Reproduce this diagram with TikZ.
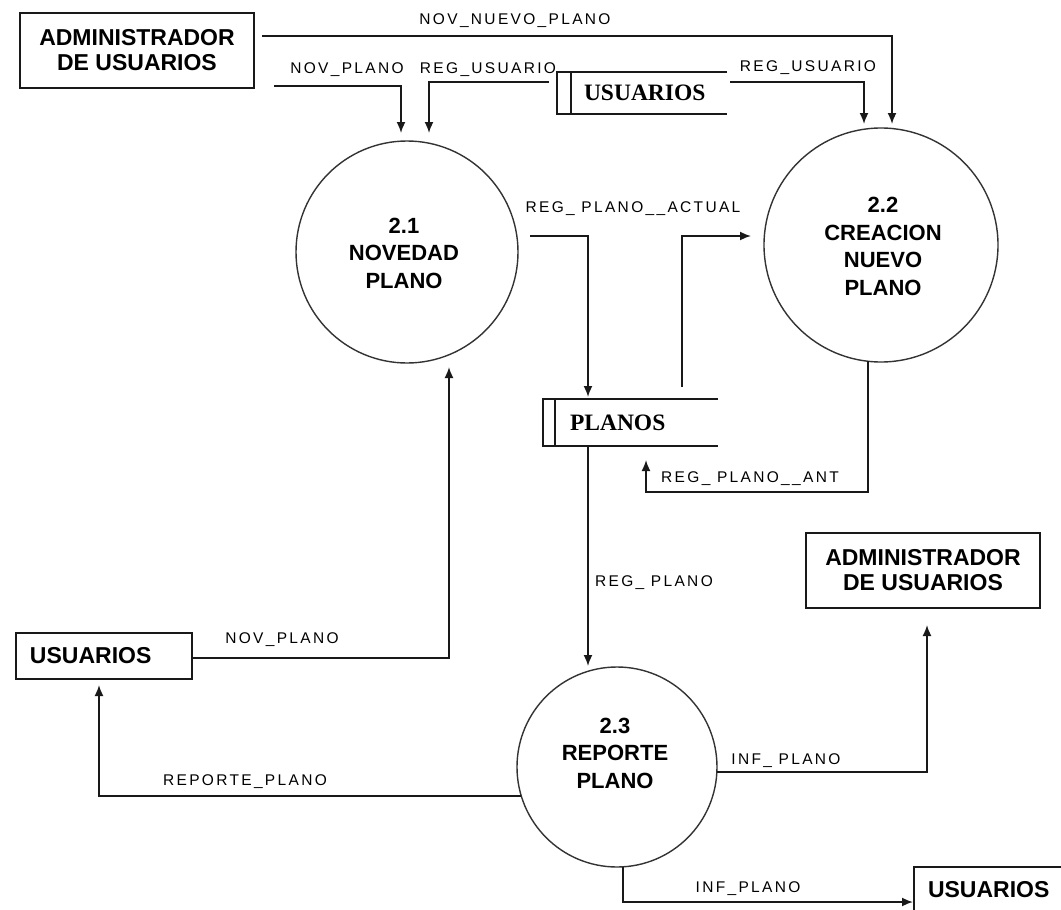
\documentclass[tikz,border=0pt]{standalone}
\usepackage{fontspec}
\usetikzlibrary{arrows.meta,calc}
\newfontfamily\entfont{Liberation Sans}
\newfontfamily\storefont{Liberation Serif}
\newfontfamily\flowfont[LetterSpace=15]{Liberation Sans}

\begin{document}
\begin{tikzpicture}[x=1pt,y=-1pt,
  line/.style={draw=black!90, line width=1.7pt},
  flow/.style={line, -{Latex[length=11pt,width=9pt]}},
  entity/.style={rectangle, draw=black!90, line width=1.7pt, outer sep=0pt,
    minimum width=234pt, minimum height=75pt, inner sep=0pt, align=center,
    font=\entfont\bfseries\fontsize{23pt}{25pt}\selectfont},
  extbox/.style={rectangle, draw=black!90, line width=1.7pt, outer sep=0pt,
    minimum height=46pt, text width=176pt, inner xsep=0pt, align=left,
    font=\entfont\bfseries\fontsize{23pt}{25pt}\selectfont},
  storebox/.style={rectangle, outer sep=0pt, inner xsep=0pt, align=left,
    font=\storefont\bfseries\fontsize{23.5pt}{26pt}\selectfont},
  process/.style={circle, draw=black!80, line width=1.4pt, inner sep=0pt, outer sep=0pt},
  proctext/.style={align=center, inner sep=0pt,
    font=\entfont\bfseries\fontsize{22pt}{27.5pt}\selectfont},
  flowlabel/.style={inner sep=0pt, font=\flowfont\fontsize{15.5pt}{18pt}\selectfont},
]
\fill[white] (0,0) rectangle (1061,910);
\clip (0,0) rectangle (1061,910);

% external entities
\node[entity] (admA) at (137,50.5) {ADMINISTRADOR\\DE USUARIOS};
\node[entity] (admB) at (923,570.5) {ADMINISTRADOR\\DE USUARIOS};
\node[extbox] (usrL) at (104,656) {\hspace*{14pt}USUARIOS};
\node[extbox] (usrB) at (1002,890) {\hspace*{14pt}USUARIOS};

% processes
\node[process, minimum size=222pt] (c21) at (407,252) {};
\node[proctext] (c21t) at (404,253) {2.1\\NOVEDAD\\PLANO};
\node[process, minimum size=234pt] (c22) at (881,245) {};
\node[proctext] (c22t) at (883,246.5) {2.2\\CREACION\\NUEVO\\PLANO};
\node[process, minimum size=200pt] (c23) at (617,767) {};
\node[proctext] (c23t) at (615,753) {2.3\\REPORTE\\PLANO};

% data stores (open on the right)
\node[storebox, text width=170pt, minimum height=42pt] (st1) at (642,93) {\hspace*{27pt}USUARIOS};
\draw[line] (st1.north east) -- (st1.north west) -- (st1.south west) -- (st1.south east);
\draw[line] ($(st1.north west)+(14,0)$) -- ($(st1.south west)+(14,0)$);
\node[storebox, text width=175pt, minimum height=47pt] (st2) at (630.5,422.5) {\hspace*{27pt}PLANOS};
\draw[line] (st2.north east) -- (st2.north west) -- (st2.south west) -- (st2.south east);
\draw[line] ($(st2.north west)+(12,0)$) -- ($(st2.south west)+(12,0)$);

% data flows
\draw[flow] ($(admA.east)+(8,-14.5)$) -| ($(c22.north)+(11,-4)$);
\draw[flow] ($(admA.south east)+(20,-2)$) -| ($(c21.north)+(-6,-8)$);
\draw[flow] ($(st1.west)+(-8,-11)$) -| ($(c21.north)+(22,-8)$);
\draw[flow] ($(st1.east)+(3,-11)$) -| ($(c22.north)+(-17,-4)$);
\draw[flow] ($(c21.east)+(12,-16)$) -| ($(st2.north)+(-42.5,-2)$);
\draw[flow] ($(st2.north)+(51.5,-12)$) |- ($(c22.west)+(-13,-9)$);
\draw[flow] ($(c22.south)+(-13,-1)$) -- ++(0,131) -| ($(st2.south)+(15.5,14)$);
\draw[flow] ($(st2.south)+(-42.5,0)$) -- ($(c23.north)+(-29,-1)$);
\draw[flow] ($(usrL.east)+(0,2)$) -| ($(c21.south)+(42,4)$);
\draw[flow] (c23.197.5) -| ($(usrL.south)+(-5,6)$);
\draw[flow] (c23.357) -| ($(admB.south)+(4,17)$);
\draw[flow] ($(c23.south)+(6,0)$) |- ($(usrB.west)+(-1,12)$);

% flow labels
\node[flowlabel] (l1) at (515,21) {NOV\_NUEVO\_PLANO};
\node[flowlabel] (l2) at (347,70) {NOV\_PLANO};
\node[flowlabel] (l3) at (488,70) {REG\_USUARIO};
\node[flowlabel] (l4) at (808,68) {REG\_USUARIO};
\node[flowlabel] (l5) at (633,209) {REG\_ PLANO\_\_ACTUAL};
\node[flowlabel] (l6) at (750,479) {REG\_ PLANO\_\_ANT};
\node[flowlabel] (l7) at (654,583) {REG\_ PLANO};
\node[flowlabel] (l8) at (282,640) {NOV\_PLANO};
\node[flowlabel] (l9) at (245,782) {REPORTE\_PLANO};
\node[flowlabel] (l10) at (786,761) {INF\_ PLANO};
\node[flowlabel] (l11) at (748,889) {INF\_PLANO};
\end{tikzpicture}
\end{document}
